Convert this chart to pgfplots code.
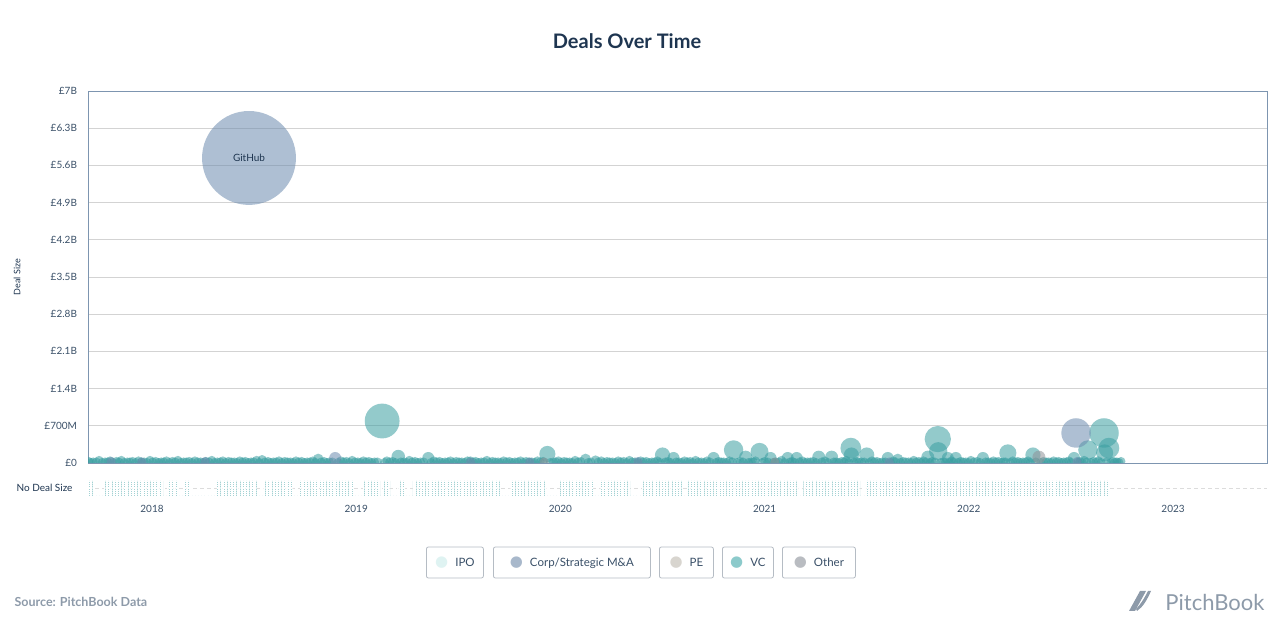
\documentclass[border=0pt]{standalone}
\usepackage{pgfplots}
\pgfplotsset{compat=1.18}
\usepackage{pgfplotstable}
\usepackage{fontspec}
\setmainfont{Lato}
\newfontfamily\dejavu{DejaVu Sans}
\usetikzlibrary{patterns.meta}

\definecolor{titlec}{HTML}{1E3550}
\definecolor{tickc}{HTML}{3A5068}
\definecolor{axc}{HTML}{7D95B0}
\definecolor{gridc}{HTML}{D3D3D3}
\definecolor{vcc}{HTML}{3A9EA1}
\definecolor{corpc}{HTML}{6C8BAE}
\definecolor{otherc}{HTML}{8F9297}
\definecolor{stripc}{HTML}{A3D2D4}
\definecolor{dashc}{HTML}{DCDCDC}
\definecolor{lipo}{HTML}{DFF3F2}
\definecolor{lcorp}{HTML}{A8B8CB}
\definecolor{lpe}{HTML}{D8D5CF}
\definecolor{lvc}{HTML}{8CCACB}
\definecolor{lother}{HTML}{B9BCC1}
\definecolor{boxc}{HTML}{B5BCC4}
\definecolor{srcc}{HTML}{8D9AA9}

\pgfplotsset{
  bubble/.style={scatter, only marks, mark=*,
    scatter/use mapped color={draw=#1, draw opacity=0, line width=0pt, fill=#1, fill opacity=0.55},
    visualization depends on={\thisrow{v} \as \val},
    scatter/@pre marker code/.append style={/tikz/mark size={max(4.5,19.6*sqrt(\val))}}},
}

\pgfplotstableread[row sep=\\]{
t h \\
2017.687 1 \\ 2017.711 0 \\ 2017.765 1 \\ 2018.054 0 \\ 2018.074 1 \\ 2018.123 0 \\
2018.162 1 \\ 2018.191 0 \\ 2018.318 1 \\ 2018.514 0 \\ 2018.544 1 \\ 2018.691 0 \\
2018.725 1 \\ 2018.808 0 \\ 2018.823 1 \\ 2018.984 0 \\ 2019.033 1 \\ 2019.117 0 \\
2019.131 1 \\ 2019.166 0 \\ 2019.200 1 \\ 2019.239 0 \\ 2019.278 1 \\ 2019.704 0 \\
2019.753 1 \\ 2019.934 0 \\ 2019.998 1 \\ 2020.160 0 \\ 2020.194 1 \\ 2020.341 0 \\
2020.400 1 \\ 2020.600 0 \\ 2020.625 1 \\ 2021.173 0 \\ 2021.190 1 \\ 2021.467 0 \\
2021.492 1 \\ 2022.682 0 \\
}\clusters

\begin{document}
\begin{tikzpicture}
\useasboundingbox (0,0) rectangle (1280pt,640pt);

% title
\node[font=\fontsize{20}{24}\selectfont\bfseries, text=titlec] at (627pt,599pt) {Deals Over Time};

% y label
\node[rotate=90, font=\fontsize{9}{11}\selectfont, text=titlec] at (17pt,363pt) {Deal Size};

\begin{axis}[
  at={(88pt,177pt)}, anchor=south west, scale only axis,
  width=1179pt, height=372pt,
  xmin=2017.6866, xmax=2023.4603, ymin=0, ymax=7,
  xtick=\empty,
  ytick={0,0.7,1.4,2.1,2.8,3.5,4.2,4.9,5.6,6.3,7},
  yticklabels={£0,£700M,£1.4B,£2.1B,£2.8B,£3.5B,£4.2B,£4.9B,£5.6B,£6.3B,£7B},
  ymajorgrids, grid style={color=gridc, line width=0.8pt},
  major tick length=0pt,
  axis line style={color=axc, line width=0.9pt},
  tick label style={font=\fontsize{10}{12}\selectfont, text=tickc},
  yticklabel style={xshift=-7.5pt},
  clip marker paths=true,
]
% small deals along the base (VC)
\addplot[bubble=vcc] table[row sep=\\, x=t, y=v] {
t v \\
2017.690 0.03 \\ 2017.712 0.02 \\ 2017.741 0.05 \\ 2017.770 0.02 \\ 2017.795 0.04 \\ 2017.826 0.03 \\
2017.850 0.05 \\ 2017.879 0.02 \\ 2017.905 0.03 \\ 2017.934 0.04 \\ 2017.961 0.02 \\ 2017.990 0.05 \\
2018.018 0.03 \\ 2018.045 0.02 \\ 2018.071 0.04 \\ 2018.100 0.03 \\ 2018.127 0.05 \\ 2018.155 0.02 \\
2018.182 0.03 \\ 2018.210 0.04 \\ 2018.238 0.02 \\ 2018.264 0.03 \\ 2018.293 0.05 \\ 2018.320 0.02 \\
2018.347 0.04 \\ 2018.375 0.03 \\ 2018.403 0.02 \\ 2018.430 0.04 \\ 2018.457 0.03 \\ 2018.485 0.02 \\
2018.512 0.05 \\ 2018.568 0.03 \\ 2018.595 0.02 \\ 2018.622 0.04 \\ 2018.650 0.03 \\ 2018.678 0.02 \\
2018.705 0.04 \\ 2018.733 0.03 \\ 2018.760 0.02 \\ 2018.788 0.04 \\ 2018.842 0.03 \\ 2018.869 0.02 \\
2018.925 0.04 \\ 2018.952 0.03 \\ 2018.980 0.05 \\ 2019.008 0.02 \\ 2019.035 0.04 \\ 2019.062 0.03 \\
2019.090 0.02 \\ 2019.150 0.04 \\ 2019.178 0.03 \\ 2019.233 0.02 \\ 2019.260 0.05 \\ 2019.288 0.03 \\
2019.315 0.02 \\ 2019.380 0.04 \\ 2019.408 0.03 \\ 2019.435 0.02 \\ 2019.462 0.04 \\ 2019.490 0.03 \\
2019.517 0.02 \\ 2019.545 0.04 \\ 2019.585 0.03 \\ 2019.612 0.02 \\ 2019.640 0.05 \\ 2019.667 0.03 \\
2019.695 0.02 \\ 2019.722 0.04 \\ 2019.750 0.03 \\ 2019.777 0.02 \\ 2019.805 0.04 \\ 2019.832 0.03 \\
2019.860 0.02 \\ 2019.888 0.04 \\ 2019.915 0.03 \\ 2019.965 0.02 \\ 2019.990 0.04 \\ 2020.018 0.03 \\
2020.045 0.02 \\ 2020.072 0.05 \\ 2020.100 0.03 \\ 2020.150 0.02 \\ 2020.200 0.04 \\ 2020.228 0.03 \\
2020.255 0.02 \\ 2020.283 0.04 \\ 2020.310 0.03 \\ 2020.338 0.05 \\ 2020.365 0.02 \\ 2020.393 0.04 \\
2020.420 0.03 \\ 2020.448 0.02 \\ 2020.475 0.04 \\ 2020.527 0.03 \\ 2020.580 0.02 \\ 2020.608 0.04 \\
2020.635 0.03 \\ 2020.662 0.05 \\ 2020.690 0.02 \\ 2020.718 0.04 \\ 2020.775 0.03 \\ 2020.800 0.02 \\
2020.828 0.04 \\ 2020.880 0.03 \\ 2020.935 0.02 \\ 2020.955 0.04 \\ 2021.000 0.03 \\ 2021.055 0.02 \\
2021.083 0.05 \\ 2021.135 0.03 \\ 2021.185 0.04 \\ 2021.210 0.02 \\ 2021.238 0.03 \\ 2021.295 0.04 \\
2021.350 0.02 \\ 2021.378 0.03 \\ 2021.400 0.05 \\ 2021.450 0.03 \\ 2021.475 0.02 \\ 2021.525 0.04 \\
2021.550 0.03 \\ 2021.578 0.02 \\ 2021.630 0.04 \\ 2021.678 0.03 \\ 2021.705 0.02 \\ 2021.730 0.05 \\
2021.755 0.03 \\ 2021.778 0.04 \\ 2021.820 0.03 \\ 2021.875 0.02 \\ 2021.915 0.04 \\ 2021.960 0.03 \\
2021.985 0.02 \\ 2022.010 0.05 \\ 2022.040 0.03 \\ 2022.095 0.02 \\ 2022.120 0.04 \\ 2022.145 0.03 \\
2022.170 0.02 \\ 2022.215 0.04 \\ 2022.240 0.03 \\ 2022.265 0.02 \\ 2022.290 0.04 \\ 2022.365 0.03 \\
2022.390 0.02 \\ 2022.415 0.04 \\ 2022.440 0.03 \\ 2022.465 0.02 \\ 2022.490 0.04 \\ 2022.545 0.03 \\
2022.565 0.05 \\ 2022.610 0.03 \\ 2022.635 0.04 \\ 2022.705 0.03 \\ 2022.725 0.02 \\ 2022.745 0.03 \\
};
% more small VC deals in between
\addplot[bubble=vcc] table[row sep=\\, x=t, y=v] {
t v \\
2017.700 0.01 \\ 2017.727 0.02 \\ 2017.756 0.01 \\ 2017.783 0.02 \\ 2017.810 0.01 \\ 2017.838 0.02 \\
2017.864 0.01 \\ 2017.892 0.02 \\ 2017.920 0.01 \\ 2017.948 0.02 \\ 2017.976 0.01 \\ 2018.004 0.02 \\
2018.032 0.01 \\ 2018.058 0.02 \\ 2018.086 0.01 \\ 2018.113 0.02 \\ 2018.141 0.01 \\ 2018.168 0.02 \\
2018.196 0.01 \\ 2018.224 0.02 \\ 2018.251 0.01 \\ 2018.279 0.02 \\ 2018.306 0.01 \\ 2018.334 0.02 \\
2018.361 0.01 \\ 2018.389 0.02 \\ 2018.416 0.01 \\ 2018.444 0.02 \\ 2018.471 0.01 \\ 2018.498 0.02 \\
2018.526 0.01 \\ 2018.553 0.02 \\ 2018.581 0.01 \\ 2018.608 0.02 \\ 2018.636 0.01 \\ 2018.664 0.02 \\
2018.691 0.01 \\ 2018.719 0.02 \\ 2018.746 0.01 \\ 2018.774 0.02 \\ 2018.801 0.01 \\ 2018.828 0.02 \\
2018.856 0.01 \\ 2018.883 0.02 \\ 2018.911 0.01 \\ 2018.938 0.02 \\ 2018.966 0.01 \\ 2018.994 0.02 \\
2019.021 0.01 \\ 2019.048 0.02 \\ 2019.076 0.01 \\ 2019.104 0.02 \\ 2019.138 0.01 \\ 2019.164 0.02 \\
2019.192 0.01 \\ 2019.219 0.02 \\ 2019.247 0.01 \\ 2019.274 0.02 \\ 2019.301 0.01 \\ 2019.330 0.02 \\
2019.366 0.01 \\ 2019.394 0.02 \\ 2019.421 0.01 \\ 2019.449 0.02 \\ 2019.476 0.01 \\ 2019.504 0.02 \\
2019.531 0.01 \\ 2019.572 0.02 \\ 2019.598 0.01 \\ 2019.626 0.02 \\ 2019.654 0.01 \\ 2019.681 0.02 \\
2019.708 0.01 \\ 2019.736 0.02 \\ 2019.763 0.01 \\ 2019.791 0.02 \\ 2019.818 0.01 \\ 2019.846 0.02 \\
2019.874 0.01 \\ 2019.901 0.02 \\ 2019.950 0.01 \\ 2019.978 0.02 \\ 2020.004 0.01 \\ 2020.031 0.02 \\
2020.058 0.01 \\ 2020.086 0.02 \\ 2020.136 0.01 \\ 2020.186 0.02 \\ 2020.214 0.01 \\ 2020.241 0.02 \\
2020.269 0.01 \\ 2020.296 0.02 \\ 2020.324 0.01 \\ 2020.351 0.02 \\ 2020.379 0.01 \\ 2020.406 0.02 \\
2020.434 0.01 \\ 2020.461 0.02 \\ 2020.488 0.01 \\ 2020.514 0.02 \\ 2020.540 0.01 \\ 2020.567 0.02 \\
2020.594 0.01 \\ 2020.621 0.02 \\ 2020.648 0.01 \\ 2020.676 0.02 \\ 2020.704 0.01 \\ 2020.732 0.02 \\
2020.762 0.01 \\ 2020.788 0.02 \\ 2020.814 0.01 \\ 2020.842 0.02 \\ 2020.866 0.01 \\ 2020.894 0.02 \\
2020.921 0.01 \\ 2020.945 0.02 \\ 2020.988 0.01 \\ 2021.015 0.02 \\ 2021.042 0.01 \\ 2021.069 0.02 \\
2021.098 0.01 \\ 2021.124 0.02 \\ 2021.147 0.01 \\ 2021.171 0.02 \\ 2021.198 0.01 \\ 2021.224 0.02 \\
2021.252 0.01 \\ 2021.280 0.02 \\ 2021.310 0.01 \\ 2021.339 0.02 \\ 2021.364 0.01 \\ 2021.389 0.02 \\
2021.412 0.01 \\ 2021.438 0.02 \\ 2021.462 0.01 \\ 2021.488 0.02 \\ 2021.512 0.01 \\ 2021.538 0.02 \\
2021.564 0.01 \\ 2021.591 0.02 \\ 2021.617 0.01 \\ 2021.642 0.02 \\ 2021.665 0.01 \\ 2021.691 0.02 \\
2021.718 0.01 \\ 2021.742 0.02 \\ 2021.766 0.01 \\ 2021.790 0.02 \\ 2021.810 0.01 \\ 2021.834 0.02 \\
2021.862 0.01 \\ 2021.886 0.02 \\ 2021.905 0.01 \\ 2021.926 0.02 \\ 2021.948 0.01 \\ 2021.972 0.02 \\
2021.998 0.01 \\ 2022.025 0.02 \\ 2022.055 0.01 \\ 2022.082 0.02 \\ 2022.108 0.01 \\ 2022.132 0.02 \\
2022.158 0.01 \\ 2022.180 0.02 \\ 2022.203 0.01 \\ 2022.228 0.02 \\ 2022.252 0.01 \\ 2022.278 0.02 \\
2022.302 0.01 \\ 2022.328 0.02 \\ 2022.353 0.01 \\ 2022.378 0.02 \\ 2022.403 0.01 \\ 2022.428 0.02 \\
2022.453 0.01 \\ 2022.478 0.02 \\ 2022.502 0.01 \\ 2022.535 0.02 \\ 2022.555 0.01 \\ 2022.578 0.02 \\
2022.598 0.01 \\ 2022.622 0.02 \\ 2022.648 0.01 \\ 2022.675 0.02 \\ 2022.695 0.01 \\ 2022.715 0.02 \\
2022.735 0.01 \\
};
% larger VC deals
\addplot[bubble=vcc] table[row sep=\\, x=t, y=v] {
t v \\
2018.539 0.06 \\ 2018.814 0.075 \\ 2019.206 0.12 \\ 2019.353 0.094 \\ 2019.127 0.79 \\ 2019.559 0.04 \\
2019.936 0.17 \\ 2020.123 0.075 \\ 2020.172 0.056 \\ 2020.500 0.15 \\ 2020.554 0.094 \\ 2020.750 0.094 \\
2020.848 0.245 \\ 2020.907 0.11 \\ 2020.975 0.21 \\ 2021.029 0.094 \\ 2021.113 0.094 \\ 2021.157 0.094 \\
2021.265 0.11 \\ 2021.328 0.11 \\ 2021.422 0.28 \\ 2021.425 0.15 \\ 2021.500 0.15 \\ 2021.603 0.094 \\
2021.652 0.075 \\ 2021.799 0.11 \\ 2021.848 0.45 \\ 2021.850 0.22 \\ 2021.897 0.094 \\ 2021.936 0.094 \\
2022.069 0.094 \\ 2022.191 0.19 \\ 2022.314 0.15 \\ 2022.662 0.565 \\ 2022.583 0.245 \\ 2022.686 0.28 \\
2022.665 0.19 \\ 2022.515 0.094 \\
};
% Corp/Strategic M&A
\addplot[bubble=corpc] table[row sep=\\, x=t, y=v] {
t v \\
2017.800 0.03 \\ 2017.950 0.02 \\ 2018.260 0.03 \\ 2018.897 0.094 \\ 2019.560 0.02 \\ 2019.850 0.02 \\
2020.380 0.03 \\ 2021.610 0.02 \\ 2022.530 0.03 \\ 2022.525 0.565 \\ 2018.475 5.74 \\
};
% Other
\addplot[bubble=otherc] table[row sep=\\, x=t, y=v] {
t v \\
2019.920 0.02 \\ 2021.050 0.02 \\ 2022.343 0.11 \\
};
\node[font=\fontsize{10}{12}\selectfont, text=titlec] at (axis cs:2018.475,5.74) {GitHub};
\end{axis}

% No Deal Size strip
\begin{axis}[
  at={(88pt,144pt)}, anchor=south west, scale only axis,
  width=1179pt, height=15pt,
  xmin=2017.6866, xmax=2023.4603, ymin=0, ymax=1,
  axis line style={draw=none}, ytick=\empty,
  xtick={2018,2019,2020,2021,2022,2023},
  xticklabels={2018,2019,2020,2021,2022,2023},
  major tick length=0pt,
  tick label style={font=\fontsize{10}{12}\selectfont, text=tickc},
  xticklabel style={yshift=-6pt},
  clip=false,
]
\addplot[color=dashc, line width=0.8pt, dash pattern=on 4pt off 3pt] coordinates {(2017.6866,0.5) (2023.4603,0.5)};
\addplot[const plot, draw=none, pattern={Lines[angle=90,distance=3.2pt,line width=0.7pt]}, pattern color=stripc] table[x=t,y=h] {\clusters} \closedcycle;
\addplot[const plot, draw=none, pattern={Lines[angle=0,distance=1.8pt,line width=0.8pt]}, pattern color=white] table[x=t,y=h] {\clusters} \closedcycle;
\end{axis}
\node[anchor=east, font=\fontsize{10}{12}\selectfont, text=titlec] at (76pt,152pt) {No Deal Size};

% legend
\tikzset{lgbox/.style={draw=boxc, line width=0.8pt, rounded corners=2pt, fill=white,
  minimum height=31pt, inner xsep=0pt, font=\fontsize{11.5}{14}\selectfont, text=tickc, anchor=west}}
\newcommand{\ldot}[1]{{\dejavu\fontsize{15}{15}\selectfont\textcolor{#1}{●}}}
\node[lgbox, minimum width=57pt] at (426pt,77.5pt) {\ldot{lipo}\hspace{7pt}IPO};
\node[lgbox, minimum width=157pt] at (493pt,77.5pt) {\ldot{lcorp}\hspace{7pt}Corp/Strategic M\&A};
\node[lgbox, minimum width=54pt] at (659pt,77.5pt) {\ldot{lpe}\hspace{7pt}PE};
\node[lgbox, minimum width=51pt] at (722pt,77.5pt) {\ldot{lvc}\hspace{7pt}VC};
\node[lgbox, minimum width=73pt] at (782pt,77.5pt) {\ldot{lother}\hspace{7pt}Other};

% source
\node[anchor=west, font=\fontsize{12.5}{15}\selectfont\bfseries, text=srcc] at (11pt,38pt) {Source: PitchBook Data};

% logo
\node[anchor=east, font=\fontsize{22}{26}\selectfont, text=srcc] at (1268pt,38pt) {PitchBook};
\fill[srcc] (1129pt,29pt) -- (1135pt,29pt) -- (1146pt,49pt) -- (1140pt,49pt) -- cycle;
\fill[srcc] (1137pt,29pt) .. controls (1143pt,33pt) and (1147pt,40pt) .. (1151pt,49pt) -- (1148pt,49pt) .. controls (1144pt,41pt) and (1140pt,35pt) .. (1136pt,31pt) -- cycle;
\end{tikzpicture}
\end{document}
